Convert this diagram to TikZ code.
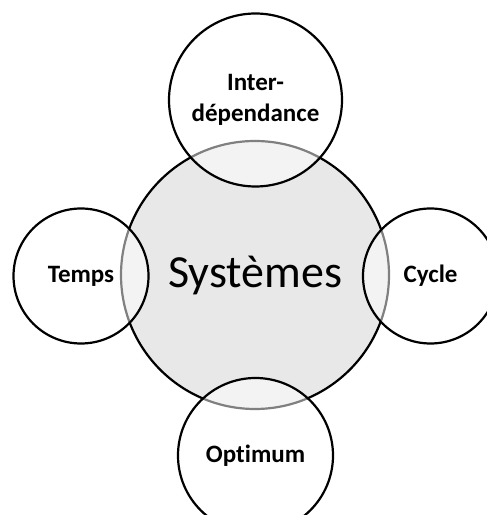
\documentclass[tikz,border=0pt]{standalone}
\usepackage{fontspec}
\setmainfont[Ligatures=CommonOff]{Carlito}
\begin{document}
\begin{tikzpicture}[x=1pt,y=1pt,
  hub/.style={circle,draw=black,fill=gray!18,line width=2.2pt,inner sep=0pt},
  petal/.style={circle,draw=black,fill=white,fill opacity=0.5,text opacity=1,
    line width=2.2pt,inner sep=0pt,align=center,
    font=\fontsize{25}{31}\selectfont\bfseries}]
  \clip (0,0) rectangle (487,515);
  \node[hub,minimum size=268pt,font=\fontsize{46}{50}\selectfont] (sys) at (255,240) {Systèmes};
  \node[petal,minimum size=173pt] (inter) at (255.5,415) {Inter-\\dépendance};
  \node[petal,minimum size=135pt] (temps) at (81,239) {Temps};
  \node[petal,minimum size=135pt] (cycle) at (430.5,239) {Cycle};
  \node[petal,minimum size=155pt] (optimum) at (255.5,59.5) {Optimum};
\end{tikzpicture}
\end{document}
